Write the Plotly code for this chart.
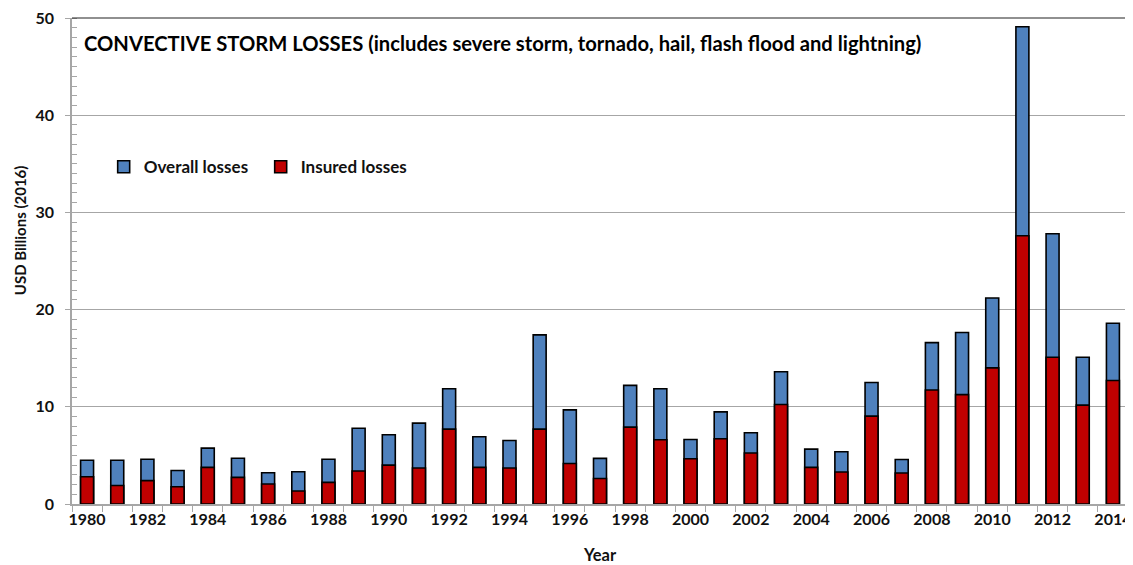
import plotly.graph_objects as go

years = list(range(1980, 2015))
overall = [4.5, 4.5, 4.6, 3.45, 5.75, 4.7, 3.22, 3.32, 4.6, 7.8,
           7.12, 8.32, 11.85, 6.92, 6.54, 17.4, 9.68, 4.69, 12.2, 11.85,
           6.64, 9.48, 7.33, 13.6, 5.65, 5.38, 12.5, 4.58, 16.6, 17.65,
           21.2, 49.1, 27.8, 15.1, 18.6]
insured = [2.8, 1.9, 2.4, 1.78, 3.77, 2.74, 2.05, 1.34, 2.22, 3.39,
           4.0, 3.7, 7.7, 3.77, 3.7, 7.7, 4.17, 2.63, 7.91, 6.61,
           4.66, 6.71, 5.24, 10.24, 3.77, 3.29, 9.04, 3.19, 11.73, 11.25,
           14.0, 27.6, 15.1, 10.17, 12.7]

title_text = "CONVECTIVE STORM LOSSES (includes severe storm, tornado, hail, flash flood and lightning)"
FONT = "Lato"

fig = go.Figure()
fig.add_trace(go.Bar(x=years, y=overall, name="Overall losses",
                     marker=dict(color="#4F81BD", line=dict(color="black", width=1.6))))
fig.add_trace(go.Bar(x=years, y=insured, name="Insured losses",
                     marker=dict(color="#C00000", line=dict(color="black", width=1.6))))

# page body has an 8px margin, so the figure is sized/offset to fill the window
fig.update_layout(
    width=1125, height=557,
    margin=dict(l=64, r=5, t=10, b=61, autoexpand=False),
    paper_bgcolor="white", plot_bgcolor="white",
    barmode="overlay", bargap=0.57,
    font=dict(family=FONT, color="#111111", size=16, weight="bold"),
    showlegend=True,
    legend=dict(orientation="h", x=0.03, y=0.693, xanchor="left", yanchor="middle",
                bgcolor="rgba(0,0,0,0)", font=dict(size=17, weight="bold"),
                itemwidth=30, traceorder="normal", entrywidth=112),
    annotations=[
        dict(text=title_text, xref="paper", yref="paper", x=0.009, y=0.9486,
             xanchor="left", yanchor="middle", showarrow=False,
             font=dict(size=20.2, weight="bold", color="black")),
        dict(text="USD Billions (2016)", xref="paper", yref="paper", x=-0.049, y=0.564,
             xanchor="center", yanchor="middle", showarrow=False, textangle=-90,
             font=dict(size=15, weight="bold")),
    ],
    shapes=[dict(type="path", xref="paper", yref="paper",
                 path="M 0 1 L 1 1 L 1 0", line=dict(color="#222", width=1.2))],
)
fig.update_xaxes(
    range=[1979.5, 2014.5], tickmode="linear", tick0=1980, dtick=2,
    ticks="", showgrid=False, showline=True, linecolor="#a6a6a6", linewidth=1.5,
    minor=dict(tickmode="linear", tick0=1979.5, dtick=1, ticks="outside",
               ticklen=6, tickcolor="#a6a6a6", tickwidth=1.2, showgrid=False),
    tickfont=dict(size=16, weight="bold"), ticklabeloverflow="allow",
    title=dict(text="Year", font=dict(size=16.5, weight="bold"), standoff=34),
    zeroline=False, automargin=False,
)
fig.update_yaxes(
    range=[0, 50], tickmode="linear", tick0=0, dtick=10,
    ticks="outside", ticklen=5, tickcolor="#a6a6a6", tickwidth=1.2,
    showgrid=True, gridcolor="#a6a6a6", gridwidth=1,
    showline=True, linecolor="#a6a6a6", linewidth=1.5,
    minor=dict(tickmode="linear", tick0=0, dtick=1, ticks="inside",
               ticklen=5, tickcolor="#a6a6a6", tickwidth=1, showgrid=False),
    tickfont=dict(size=16, weight="bold"), ticklabeloverflow="allow",
    ticklabelstandoff=8,
    zeroline=False, automargin=False,
)

fig.write_html("out.html")
